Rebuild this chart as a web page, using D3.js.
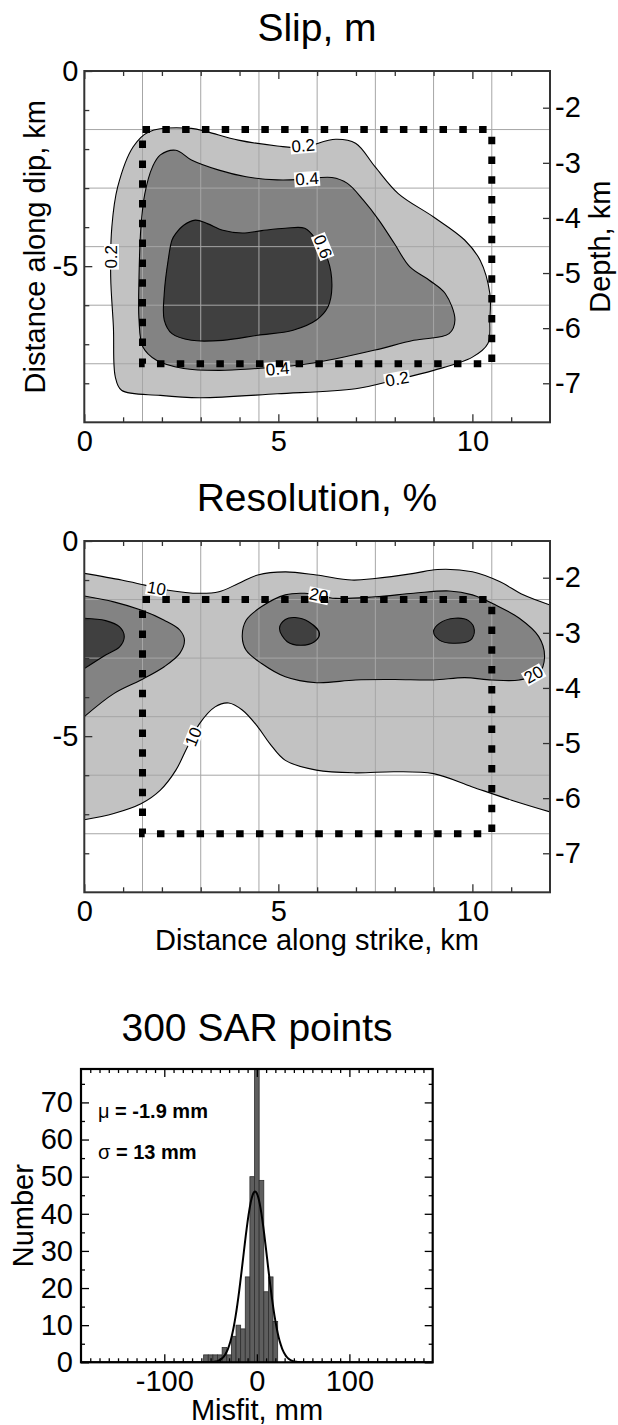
<!DOCTYPE html>
<html><head><meta charset="utf-8">
<script src="https://cdn.jsdelivr.net/npm/d3@7"></script>
<style>body{margin:0;background:#fff}svg{display:block}</style>
</head><body><svg id="c" width="618" height="1425"></svg>
<script>
// ---------------- DATA ----------------
const strikeDomain = [0, 12];
const dipDomain = [0, -9];
const depthDomain = [-1.334, -7.708];
const strikeMajor = [0, 5, 10];
const strikeMinor = [1, 2, 3, 4, 6, 7, 8, 9, 11];
const dipMajor = [0, -5];
const dipMinor = [-1, -2, -3, -4, -6, -7, -8];
const depthTicks = [-2, -3, -4, -5, -6, -7];
const gridStrike = [1.5, 3, 4.5, 6, 7.5, 9, 10.5];
const gridDip = [-1.5, -3, -4.5, -6, -7.5];
const patchStrike = [1.5, 10.5];
const patchDip = [-1.5, -7.5];

// slip contours (strike km, dip km)
const slip02 = [[0.71,-3.99],[0.86,-2.97],[1.26,-1.94],[1.66,-1.56],[2.76,-1.47],[3.17,-1.56],[3.97,-1.77],[4.97,-1.92],[5.58,-1.96],[6.48,-1.75],[6.99,-1.85],[7.49,-2.45],[8.09,-3.14],[9.0,-3.74],[9.80,-4.33],[10.2,-4.85],[10.45,-5.70],[10.45,-6.38],[10.40,-6.98],[10.0,-7.33],[9.0,-7.67],[7.99,-7.92],[6.99,-8.14],[4.97,-8.27],[2.97,-8.37],[1.96,-8.31],[0.96,-8.18],[0.80,-7.84],[0.75,-6.56],[0.68,-5.27]];
const slip04 = [[1.96,-2.15],[2.36,-2.03],[2.76,-2.28],[3.47,-2.54],[4.17,-2.71],[4.97,-2.79],[5.58,-2.78],[6.38,-2.73],[6.78,-2.88],[7.19,-3.31],[7.59,-3.82],[7.99,-4.42],[8.39,-5.02],[8.89,-5.36],[9.30,-5.70],[9.55,-6.38],[9.40,-6.73],[8.49,-6.90],[7.49,-7.15],[6.48,-7.37],[5.48,-7.54],[4.47,-7.62],[3.47,-7.67],[2.56,-7.62],[1.86,-7.41],[1.51,-7.07],[1.41,-6.38],[1.41,-5.27],[1.46,-3.99],[1.56,-3.14],[1.76,-2.45]];
const slip06 = [[2.36,-4.16],[2.56,-3.95],[2.86,-3.82],[3.17,-3.91],[3.57,-4.08],[4.07,-4.15],[4.57,-4.09],[5.18,-4.03],[5.68,-4.03],[5.98,-4.33],[6.28,-4.85],[6.38,-5.53],[6.28,-6.04],[5.98,-6.38],[5.38,-6.64],[4.47,-6.77],[3.57,-6.90],[2.76,-6.90],[2.26,-6.73],[2.06,-6.38],[2.06,-5.70],[2.16,-4.85],[2.26,-4.33]];
const slipLabels = [
  {t:"0.2", x:5.64, d:-1.92, a:-5},
  {t:"0.4", x:5.74, d:-2.77, a:-4},
  {t:"0.6", x:6.14, d:-4.50, a:68},
  {t:"0.4", x:4.98, d:-7.64, a:-5},
  {t:"0.2", x:8.06, d:-7.90, a:-10},
  {t:"0.2", x:0.70, d:-4.76, a:-90}
];

// resolution contours (%)
const res10Top = [[0,-0.83],[0.96,-1.00],[1.56,-1.13],[2.16,-1.26],[2.97,-1.34],[3.47,-1.30],[3.97,-1.09],[4.47,-0.87],[5.18,-0.79],[5.98,-0.87],[6.89,-1.00],[7.49,-0.96],[8.49,-0.83],[9.10,-0.73],[10.0,-0.79],[10.70,-1.04],[11.31,-1.38],[12.0,-1.64]];
const res10Bottom = [[0,-7.14],[0.76,-6.98],[1.46,-6.73],[1.96,-6.38],[2.36,-5.87],[2.66,-5.27],[2.97,-4.68],[3.37,-4.25],[3.72,-4.15],[4.07,-4.33],[4.47,-4.76],[4.78,-5.19],[5.18,-5.62],[5.98,-5.87],[6.99,-5.94],[8.0,-5.91],[9.0,-5.96],[10.0,-6.30],[11.01,-6.64],[12.0,-6.94]];
const res20Left = [[0,-1.41],[0.76,-1.56],[1.46,-1.77],[2.06,-2.03],[2.46,-2.28],[2.58,-2.54],[2.46,-2.88],[2.06,-3.22],[1.46,-3.56],[0.76,-3.91],[0,-4.50]];
const res20Right = [[4.07,-2.45],[4.17,-2.03],[4.57,-1.68],[5.18,-1.38],[5.68,-1.34],[6.48,-1.47],[7.49,-1.43],[8.49,-1.34],[9.40,-1.28],[10.0,-1.38],[10.60,-1.64],[11.21,-1.98],[11.71,-2.45],[11.86,-2.97],[11.71,-3.39],[11.21,-3.56],[10.50,-3.56],[9.80,-3.50],[9.0,-3.56],[8.0,-3.55],[6.99,-3.56],[5.98,-3.63],[5.18,-3.48],[4.57,-3.14],[4.17,-2.80]];
const res30Left = [[0,-1.98],[0.55,-2.04],[0.91,-2.20],[1.03,-2.45],[0.91,-2.71],[0.55,-2.92],[0,-3.27]];
const res30A = [[5.03,-2.24],[5.18,-2.01],[5.43,-1.96],[5.78,-2.07],[6.06,-2.37],[5.93,-2.58],[5.58,-2.67],[5.23,-2.58]];
const res30B = [[9.0,-2.32],[9.15,-2.11],[9.55,-1.98],[9.90,-2.04],[10.05,-2.28],[9.95,-2.54],[9.50,-2.62],[9.15,-2.54]];
const resLabels = [
  {t:"10", x:1.86, d:-1.22, a:10},
  {t:"20", x:6.04, d:-1.40, a:12},
  {t:"20", x:11.58, d:-3.43, a:-30},
  {t:"10", x:2.82, d:-5.02, a:-68}
];

// histogram
const binCenters = [-55,-50,-45,-40,-35,-30,-25,-20,-15,-10,-5,0,5,10,15,20];
const binCounts  = [2,2,2,2,4,2,7,10,9,23,50,85,49,19,23,11];
const binWidth = 5;
const misfitDomain = [-190, 190];
const countDomain = [0, 79];
const misfitMajor = [-100, 0, 100];
const misfitMinor = [-180,-170,-160,-150,-140,-130,-120,-110,-90,-80,-70,-60,-50,-40,-30,-20,-10,10,20,30,40,50,60,70,80,90,110,120,130,140,150,160,170,180];
const countMajor = [0,10,20,30,40,50,60,70];
const countMinor = [5,15,25,35,45,55,65,75];
const fitMean = -1.9, fitSigma = 13, nPoints = 300;

// ---------------- DRAW ----------------
const FONT = '"Liberation Sans", Arial, Helvetica, sans-serif';
const svg = d3.select("#c");
const defs = svg.append("defs");
const COL = {light:"#c2c2c2", mid:"#838383", dark:"#404040"};
const X0 = 84.3, X1 = 550;

function text(g, x, y, s, size, opt) {
  opt = opt || {};
  const t = g.append("text").attr("x", x).attr("y", y).attr("font-family", FONT)
    .attr("font-size", size).attr("fill", "#000").attr("text-anchor", opt.anchor || "middle").text(s);
  if (opt.rotate) t.attr("transform", `rotate(${opt.rotate},${x},${y})`);
  return t;
}

function axisPart(g, axisFn, scale, values, size, labels, transform, pad, col) {
  const ax = axisFn(scale).tickValues(values).tickSizeInner(-size).tickSizeOuter(0)
    .tickPadding(pad).tickFormat(labels ? (d => String(d)) : "");
  const a = g.append("g").attr("transform", transform).call(ax);
  a.select(".domain").remove();
  a.selectAll("line").attr("stroke", col).attr("stroke-width", 1.3);
  a.selectAll("text").attr("font-size", 29).attr("font-family", FONT).attr("fill", "#000");
  return a;
}

function drawPanel(top, bottom, which) {
  const x = d3.scaleLinear().domain(strikeDomain).range([X0, X1]);
  const y = d3.scaleLinear().domain(dipDomain).range([top, bottom]);
  const yd = d3.scaleLinear().domain(depthDomain).range([top, bottom]);
  const clipId = "clip" + which;
  defs.append("clipPath").attr("id", clipId).append("rect")
    .attr("x", X0).attr("y", top).attr("width", X1 - X0).attr("height", bottom - top);
  const g = svg.append("g");
  const inner = g.append("g").attr("clip-path", `url(#${clipId})`);
  const closed = d3.line().x(p => x(p[0])).y(p => y(p[1])).curve(d3.curveCatmullRomClosed.alpha(0.5));
  const open = d3.line().x(p => x(p[0])).y(p => y(p[1])).curve(d3.curveCatmullRom.alpha(0.5));
  const fillG = inner.append("g");
  const lineG = inner.append("g");
  const stroke = (d) => lineG.append("path").attr("d", d).attr("fill", "none").attr("stroke", "#000").attr("stroke-width", 1.1);

  if (which === "slip") {
    [[slip02, COL.light], [slip04, COL.mid], [slip06, COL.dark]].forEach(([pts, c]) => {
      fillG.append("path").attr("d", closed(pts)).attr("fill", c);
      stroke(closed(pts));
    });
  } else {
    const band = open(res10Top) + open(res10Bottom.slice().reverse()).replace(/^M/, "L") + "Z";
    fillG.append("path").attr("d", band).attr("fill", COL.light);
    fillG.append("path").attr("d", open(res20Left) + "Z").attr("fill", COL.mid);
    fillG.append("path").attr("d", closed(res20Right)).attr("fill", COL.mid);
    fillG.append("path").attr("d", open(res30Left) + "Z").attr("fill", COL.dark);
    fillG.append("path").attr("d", closed(res30A)).attr("fill", COL.dark);
    fillG.append("path").attr("d", closed(res30B)).attr("fill", COL.dark);
    stroke(open(res10Top)); stroke(open(res10Bottom));
    stroke(open(res20Left)); stroke(closed(res20Right));
    stroke(open(res30Left)); stroke(closed(res30A)); stroke(closed(res30B));
  }
  // grid (over fills)
  const grid = inner.insert("g", () => lineG.node());
  grid.selectAll(".gx").data(gridStrike).join("line")
    .attr("x1", d => x(d)).attr("x2", d => x(d)).attr("y1", top).attr("y2", bottom)
    .attr("stroke", "#a6a6a6").attr("stroke-width", 1);
  grid.selectAll(".gy").data(gridDip).join("line")
    .attr("y1", d => y(d)).attr("y2", d => y(d)).attr("x1", X0).attr("x2", X1)
    .attr("stroke", "#a6a6a6").attr("stroke-width", 1);

  // contour labels
  const labs = which === "slip" ? slipLabels : resLabels;
  labs.forEach(L => {
    const gg = inner.append("g").attr("transform", `translate(${x(L.x)},${y(L.d)}) rotate(${L.a})`);
    const r = gg.append("rect").attr("fill", "#fff");
    const t = gg.append("text").attr("text-anchor", "middle").attr("dominant-baseline", "central")
      .attr("font-size", 17).attr("font-family", FONT).attr("fill", "#000").text(L.t);
    const b = t.node().getBBox();
    r.attr("x", b.x - 1).attr("y", b.y + 2).attr("width", b.width + 2).attr("height", b.height - 4);
  });

  // dashed patch outline
  g.append("rect").attr("x", x(patchStrike[0])).attr("y", y(patchDip[0]))
    .attr("width", x(patchStrike[1]) - x(patchStrike[0])).attr("height", y(patchDip[1]) - y(patchDip[0]))
    .attr("fill", "none").attr("stroke", "#000").attr("stroke-width", 7).attr("stroke-dasharray", "7.5 12.3");

  // axes
  const col = "#333";
  axisPart(g, d3.axisBottom, x, strikeMinor, 5, false, `translate(0,${bottom})`, 8, col);
  axisPart(g, d3.axisBottom, x, strikeMajor, 8, true, `translate(0,${bottom})`, 8, col);
  axisPart(g, d3.axisTop, x, strikeMinor, 5, false, `translate(0,${top})`, 8, col);
  axisPart(g, d3.axisTop, x, strikeMajor, 8, false, `translate(0,${top})`, 8, col);
  axisPart(g, d3.axisLeft, y, dipMinor, 5, false, `translate(${X0},0)`, 6, col);
  axisPart(g, d3.axisLeft, y, dipMajor, 8, true, `translate(${X0},0)`, 6, col);
  axisPart(g, d3.axisRight, yd, depthTicks, 7, true, `translate(${X1},0)`, 5, col);
  g.append("rect").attr("x", X0).attr("y", top).attr("width", X1 - X0).attr("height", bottom - top)
    .attr("fill", "none").attr("stroke", col).attr("stroke-width", 2);
  return {x, y};
}

// Slip panel
text(svg, 317, 41, "Slip, m", 39);
drawPanel(71, 422.3, "slip");
text(svg, 45, 246.7, "Distance along dip, km", 29, {rotate: -90});
text(svg, 610, 246.7, "Depth, km", 29, {rotate: -90});

// Resolution panel
text(svg, 317, 511, "Resolution, %", 39);
drawPanel(541, 892.3, "res");
text(svg, 317, 950, "Distance along strike, km", 29);

// Histogram
text(svg, 257, 1041, "300 SAR points", 39);
const HL = 81, HR = 432.7, HT = 1069, HB = 1362.3;
const hx = d3.scaleLinear().domain(misfitDomain).range([HL, HR]);
const hy = d3.scaleLinear().domain(countDomain).range([HB, HT]);
defs.append("clipPath").attr("id", "hclip").append("rect")
  .attr("x", HL).attr("y", HT).attr("width", HR - HL).attr("height", HB - HT);
const hg = svg.append("g");
const hin = hg.append("g").attr("clip-path", "url(#hclip)");
hin.selectAll("rect.bar").data(binCenters).join("rect").attr("class", "bar")
  .attr("x", (c) => hx(c - binWidth / 2)).attr("width", (c) => hx(c + binWidth / 2) - hx(c - binWidth / 2))
  .attr("y", (c, i) => hy(binCounts[i])).attr("height", (c, i) => hy(0) - hy(binCounts[i]))
  .attr("fill", "#5e5e5e").attr("stroke", "#2e2e2e").attr("stroke-width", 0.8);
const gauss = v => nPoints * binWidth / (fitSigma * Math.sqrt(2 * Math.PI)) * Math.exp(-((v - fitMean) ** 2) / (2 * fitSigma * fitSigma));
const xs = d3.range(misfitDomain[0], misfitDomain[1] + 0.5, 1);
hin.append("path").attr("d", d3.line().x(v => hx(v)).y(v => hy(gauss(v))).curve(d3.curveBasis)(xs))
  .attr("fill", "none").attr("stroke", "#000").attr("stroke-width", 2);

const hc = "#000";
axisPart(hg, d3.axisBottom, hx, misfitMinor, 4, false, `translate(0,${HB})`, 8, hc);
axisPart(hg, d3.axisBottom, hx, misfitMajor, 8, true, `translate(0,${HB})`, 8, hc);
axisPart(hg, d3.axisTop, hx, misfitMinor, 4, false, `translate(0,${HT})`, 8, hc);
axisPart(hg, d3.axisTop, hx, misfitMajor, 8, false, `translate(0,${HT})`, 8, hc);
axisPart(hg, d3.axisLeft, hy, countMinor, 4, false, `translate(${HL},0)`, 8, hc);
axisPart(hg, d3.axisLeft, hy, countMajor, 8, true, `translate(${HL},0)`, 8, hc);
axisPart(hg, d3.axisRight, hy, countMinor, 4, false, `translate(${HR},0)`, 8, hc);
axisPart(hg, d3.axisRight, hy, countMajor, 8, false, `translate(${HR},0)`, 8, hc);
hg.append("rect").attr("x", HL).attr("y", HT).attr("width", HR - HL).attr("height", HB - HT)
  .attr("fill", "none").attr("stroke", "#000").attr("stroke-width", 2.2);

const t1 = svg.append("text").attr("x", 98).attr("y", 1118).attr("font-family", FONT).attr("font-size", 20).attr("fill", "#000");
t1.append("tspan").text("μ");
t1.append("tspan").attr("font-weight", "bold").text(" = -" + Math.abs(fitMean) + " mm");
const t2 = svg.append("text").attr("x", 98).attr("y", 1159).attr("font-family", FONT).attr("font-size", 20).attr("fill", "#000");
t2.append("tspan").text("σ");
t2.append("tspan").attr("font-weight", "bold").text(" = " + fitSigma + " mm");

text(svg, 33.5, 1215.7, "Number", 29, {rotate: -90});
text(svg, 257, 1420, "Misfit, mm", 29);
</script></body></html>
